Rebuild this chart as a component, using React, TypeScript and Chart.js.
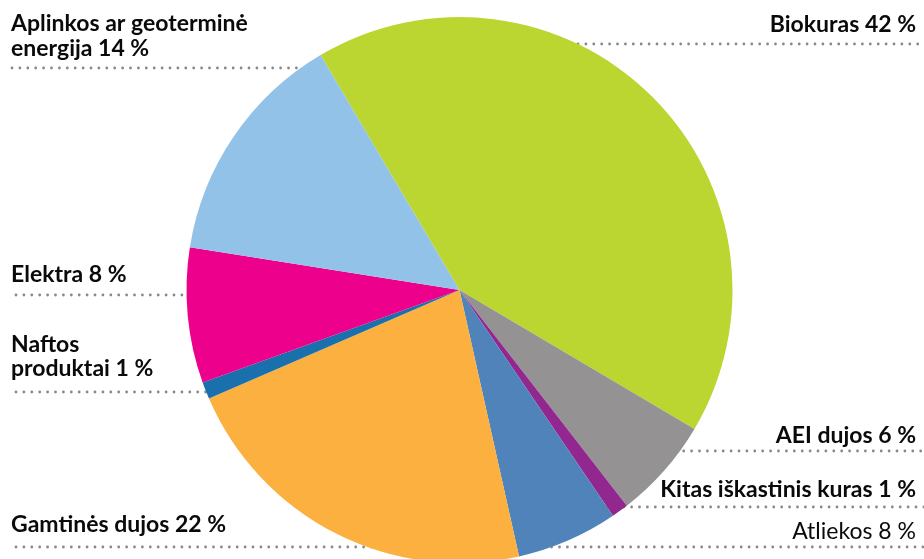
import React, { useEffect, useRef } from "react";
import { Chart, registerables } from "chart.js";

Chart.register(...registerables);

const categories = [
  "Biokuras",
  "AEI dujos",
  "Kitas iškastinis kuras",
  "Atliekos",
  "Gamtinės dujos",
  "Naftos produktai",
  "Elektra",
  "Aplinkos ar geoterminė energija",
];
// slice sizes as drawn (percent)
const shares = [42, 6, 1, 6, 22, 1, 8, 14];
const colors = ["#bcd631", "#949293", "#92278f", "#4f83ba", "#fbb040", "#1a6fad", "#ec008c", "#92c2e7"];

// label texts
const labelBiokuras = ["Biokuras 42 %"];
const labelAei = ["AEI dujos 6 %"];
const labelKitas = ["Kitas iškastinis kuras 1 %"];
const labelAtliekos = ["Atliekos 8 %"];
const labelGamtines = ["Gamtinės dujos 22 %"];
const labelNaftos = ["Naftos", "produktai 1 %"];
const labelElektra = ["Elektra 8 %"];
const labelAplinkos = ["Aplinkos ar geoterminė", "energija 14 %"];

type Lbl = { lines: string[]; x: number; align: CanvasTextAlign; y: number; lh: number; dotY: number; x1: number; x2: number; bold: boolean };

const labelLayout: Lbl[] = [
  { lines: labelAplinkos, x: 11, align: "left", y: 31, lh: 25, dotY: 68, x1: 12, x2: 320, bold: true },
  { lines: labelBiokuras, x: 916, align: "right", y: 32, lh: 25, dotY: 44, x1: 578, x2: 924, bold: true },
  { lines: labelElektra, x: 11, align: "left", y: 282, lh: 25, dotY: 295, x1: 16, x2: 200, bold: true },
  { lines: labelNaftos, x: 11, align: "left", y: 352, lh: 24, dotY: 392, x1: 16, x2: 220, bold: true },
  { lines: labelAei, x: 916, align: "right", y: 443, lh: 25, dotY: 451, x1: 660, x2: 924, bold: true },
  { lines: labelKitas, x: 916, align: "right", y: 497, lh: 25, dotY: 507, x1: 600, x2: 924, bold: true },
  { lines: labelGamtines, x: 11, align: "left", y: 532, lh: 25, dotY: 547, x1: 16, x2: 420, bold: true },
  { lines: labelAtliekos, x: 916, align: "right", y: 539, lh: 25, dotY: 547, x1: 520, x2: 924, bold: false },
];

const dotsPlugin = {
  id: "dots",
  beforeDatasetsDraw(chart: any) {
    const ctx = chart.ctx as CanvasRenderingContext2D;
    ctx.save();
    ctx.strokeStyle = "#888888";
    ctx.lineWidth = 2.8;
    ctx.lineCap = "round";
    ctx.setLineDash([0, 7.9]);
    for (const l of labelLayout) {
      ctx.beginPath();
      ctx.moveTo(l.x1, l.dotY);
      ctx.lineTo(l.x2, l.dotY);
      ctx.stroke();
    }
    ctx.restore();
  },
  afterDatasetsDraw(chart: any) {
    const ctx = chart.ctx as CanvasRenderingContext2D;
    ctx.save();
    ctx.fillStyle = "#0a0a0a";
    ctx.textBaseline = "alphabetic";
    for (const l of labelLayout) {
      ctx.font = (l.bold ? "bold " : "") + "23px Lato, 'Open Sans', sans-serif";
      ctx.textAlign = l.align;
      l.lines.forEach((t, i) => ctx.fillText(t, l.x, l.y + i * l.lh));
    }
    ctx.restore();
  },
};

export default function App() {
  const ref = useRef<HTMLCanvasElement>(null);
  useEffect(() => {
    if (!ref.current) return;
    const chart = new Chart(ref.current, {
      type: "pie",
      data: {
        labels: categories,
        datasets: [{ data: shares, backgroundColor: colors, borderWidth: 0 }],
      },
      options: {
        animation: false,
        responsive: false,
        rotation: -30.6,
        layout: { padding: { left: 186, top: 17, right: 191, bottom: 17 } },
        plugins: { legend: { display: false }, tooltip: { enabled: false } },
      },
      plugins: [dotsPlugin],
    });
    return () => chart.destroy();
  }, []);
  return (
    <div style={{ position: "fixed", left: 0, top: 0, width: 924, height: 559, overflow: "hidden", background: "#fff" }}>
      <canvas ref={ref} width={924} height={580} style={{ display: "block" }} />
    </div>
  );
}
